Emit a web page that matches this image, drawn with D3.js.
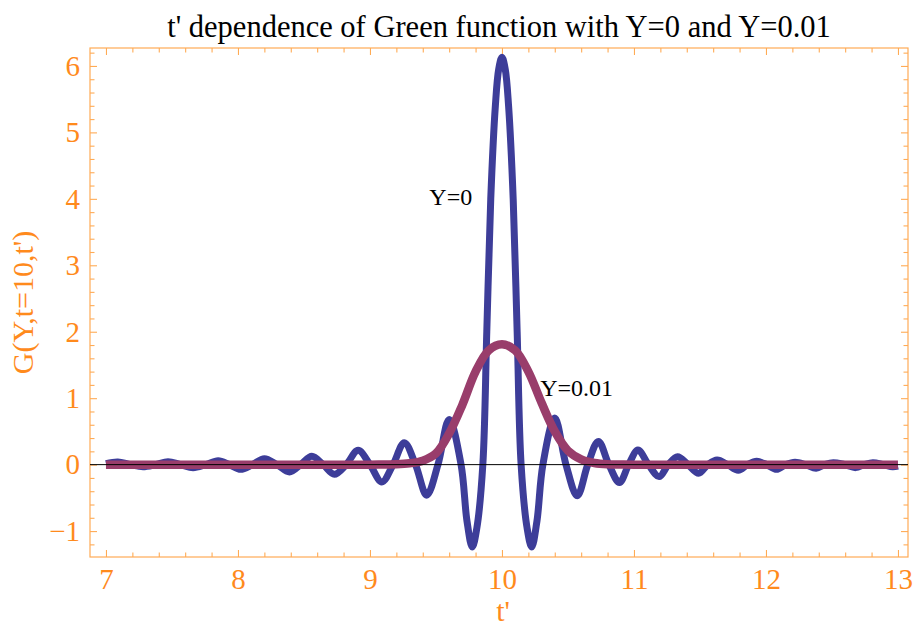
<!DOCTYPE html>
<html>
<head>
<meta charset="utf-8">
<script src="https://cdn.jsdelivr.net/npm/d3@7"></script>
<style>
  html, body { margin: 0; padding: 0; background: #fff; }
  svg { display: block; }
  text { font-family: "Liberation Serif", "Times New Roman", serif; }
</style>
</head>
<body>
<svg id="chart" width="913" height="630"></svg>
<script>
// ---------- data ----------
const tY0 = [7.00, 7.09, 7.185, 7.28, 7.375, 7.47, 7.565, 7.66, 7.755, 7.85, 7.935, 8.02, 8.11, 8.20, 8.295,
  8.39, 8.475, 8.56, 8.645, 8.73, 8.82, 8.91, 9.00, 9.09, 9.175, 9.26, 9.345, 9.43, 9.515, 9.60, 9.69,
  9.735, 9.775, 9.81, 9.855, 9.885, 9.915, 9.95, 9.975, 10.0, 10.025, 10.05, 10.085, 10.115, 10.145,
  10.19, 10.225, 10.265, 10.31, 10.40, 10.485, 10.57, 10.65, 10.73, 10.81, 10.89, 10.96, 11.03, 11.11,
  11.19, 11.26, 11.33, 11.41, 11.49, 11.56, 11.63, 11.71, 11.79, 11.86, 11.93, 12.005, 12.08, 12.15,
  12.22, 12.30, 12.38, 12.445, 12.51, 12.595, 12.68, 12.745, 12.81, 12.89, 12.96, 13.0];
const gY0 = [0.015, 0.04, 0, -0.03, 0, 0.045, 0, -0.045, 0, 0.06, 0, -0.07, 0, 0.09, 0,
  -0.11, 0, 0.125, 0, -0.145, 0, 0.215, 0, -0.26, 0, 0.33, 0, -0.46, 0, 0.68, 0,
  -0.85, -1.24, -0.95, 0, 2.0, 4.0, 5.4, 5.95, 6.13, 5.95, 5.4, 4.0, 2.0, 0,
  -0.95, -1.24, -0.85, 0, 0.70, 0, -0.47, 0, 0.35, 0, -0.27, 0, 0.22, 0,
  -0.18, 0, 0.12, 0, -0.13, 0, 0.07, 0, -0.085, 0, 0.05, 0, -0.07, 0,
  0.035, 0, -0.055, 0, 0.03, 0, -0.045, 0, 0.03, 0, -0.03, -0.02];

const tY001 = [7.0, 9.0, 9.2, 9.3, 9.4, 9.5, 9.6, 9.7, 9.8, 9.9, 10.0, 10.1, 10.2, 10.3, 10.4, 10.5, 10.6, 10.7, 10.8, 11.0, 13.0];
const gY001 = [0, 0, 0.005, 0.02, 0.06, 0.17, 0.47, 0.90, 1.40, 1.72, 1.81, 1.72, 1.40, 0.93, 0.50, 0.21, 0.08, 0.025, 0.005, 0, 0];

const xMajor = [7, 8, 9, 10, 11, 12, 13];
const yMajor = [-1, 0, 1, 2, 3, 4, 5, 6];
const xMinorStep = 0.2;
const yMinorStep = 0.2;

const titleText = "t' dependence of Green function with Y=0 and Y=0.01";
const xLabel = "t'";
const yLabel = "G(Y,t=10,t')";
const curveLabels = [
  { text: "Y=0", t: 9.45, g: 3.9 },
  { text: "Y=0.01", t: 10.29, g: 1.03 }
];

// ---------- layout ----------
(function () {
const svg = d3.select("#chart");
const mLeft = 90, mRight = 908, mTop = 48, mBottom = 557;
const orange = "#ff8a1c";
const frameColor = "#ffab55";

const x = d3.scaleLinear().domain([6.879, 13.076]).range([mLeft, mRight]);
const y = d3.scaleLinear().domain([-1.39, 6.27]).range([mBottom, mTop]);

const xMinor = d3.range(6.4, 13.1, xMinorStep).map(v => +v.toFixed(2))
  .filter(v => v >= x.domain()[0] && v <= x.domain()[1] && !xMajor.some(m => Math.abs(m - v) < 1e-6));
const yMinor = d3.range(-1.4, 6.3, yMinorStep).map(v => +v.toFixed(2))
  .filter(v => v >= y.domain()[0] && v <= y.domain()[1] && !yMajor.some(m => Math.abs(m - v) < 1e-6));

svg.append("defs").append("clipPath").attr("id", "clip")
  .append("rect").attr("x", mLeft).attr("y", mTop).attr("width", mRight - mLeft).attr("height", mBottom - mTop);

const fmt = d => d < 0 ? "\u2212" + Math.abs(d) : String(d);

function styleAxis(g, showLabels) {
  g.select(".domain").remove();
  g.selectAll(".tick line").attr("stroke", frameColor).attr("stroke-width", 1.1);
  g.selectAll(".tick text").attr("fill", orange).attr("font-size", 29)
    .attr("font-family", "Liberation Serif, Times New Roman, serif");
  if (!showLabels) g.selectAll(".tick text").remove();
}

svg.append("g").attr("transform", `translate(0,${mBottom})`)
  .call(d3.axisBottom(x).tickValues(xMajor).tickSize(-7).tickPadding(11).tickFormat(fmt))
  .call(g => styleAxis(g, true));
svg.append("g").attr("transform", `translate(0,${mBottom})`)
  .call(d3.axisBottom(x).tickValues(xMinor).tickSize(-4.5).tickFormat(""))
  .call(g => styleAxis(g, false));
svg.append("g").attr("transform", `translate(0,${mTop})`)
  .call(d3.axisTop(x).tickValues(xMajor).tickSize(-7).tickFormat(""))
  .call(g => styleAxis(g, false));
svg.append("g").attr("transform", `translate(0,${mTop})`)
  .call(d3.axisTop(x).tickValues(xMinor).tickSize(-4.5).tickFormat(""))
  .call(g => styleAxis(g, false));
svg.append("g").attr("transform", `translate(${mLeft},0)`)
  .call(d3.axisLeft(y).tickValues(yMajor).tickSize(-7).tickPadding(10).tickFormat(fmt))
  .call(g => styleAxis(g, true));
svg.append("g").attr("transform", `translate(${mLeft},0)`)
  .call(d3.axisLeft(y).tickValues(yMinor).tickSize(-4.5).tickFormat(""))
  .call(g => styleAxis(g, false));
svg.append("g").attr("transform", `translate(${mRight},0)`)
  .call(d3.axisRight(y).tickValues(yMajor).tickSize(-7).tickFormat(""))
  .call(g => styleAxis(g, false));
svg.append("g").attr("transform", `translate(${mRight},0)`)
  .call(d3.axisRight(y).tickValues(yMinor).tickSize(-4.5).tickFormat(""))
  .call(g => styleAxis(g, false));

svg.append("rect").attr("x", mLeft).attr("y", mTop).attr("width", mRight - mLeft).attr("height", mBottom - mTop)
  .attr("fill", "none").attr("stroke", frameColor).attr("stroke-width", 1.2);

const line = d3.line().x(d => x(d[0])).y(d => y(d[1])).curve(d3.curveCatmullRom.alpha(0.5));
const plot = svg.append("g").attr("clip-path", "url(#clip)");
plot.append("path").datum(tY0.map((t, i) => [t, gY0[i]]))
  .attr("d", line).attr("fill", "none").attr("stroke", "#3d3d99").attr("stroke-width", 7)
  .attr("stroke-linejoin", "round");
plot.append("path").datum(tY001.map((t, i) => [t, gY001[i]]))
  .attr("d", line).attr("fill", "none").attr("stroke", "#993d6b").attr("stroke-width", 8.5)
  .attr("stroke-linejoin", "round");

svg.append("line").attr("x1", mLeft).attr("x2", mRight).attr("y1", y(0)).attr("y2", y(0))
  .attr("stroke", "#000").attr("stroke-width", 1);

svg.selectAll(".clabel").data(curveLabels).enter().append("text")
  .attr("class", "clabel")
  .attr("x", d => x(d.t)).attr("y", d => y(d.g))
  .attr("font-size", 24).attr("fill", "#000")
  .text(d => d.text);

svg.append("text").attr("x", (mLeft + mRight) / 2).attr("y", 37)
  .attr("text-anchor", "middle").attr("font-size", 30.5).attr("fill", "#000")
  .text(titleText);

svg.append("text").attr("x", 503).attr("y", 621)
  .attr("text-anchor", "middle").attr("font-size", 30).attr("fill", orange)
  .text(xLabel);
svg.append("text").attr("transform", `translate(33,${(mTop + mBottom) / 2}) rotate(-90)`)
  .attr("text-anchor", "middle").attr("font-size", 30).attr("fill", orange)
  .text(yLabel);
})();
</script>
</body>
</html>
